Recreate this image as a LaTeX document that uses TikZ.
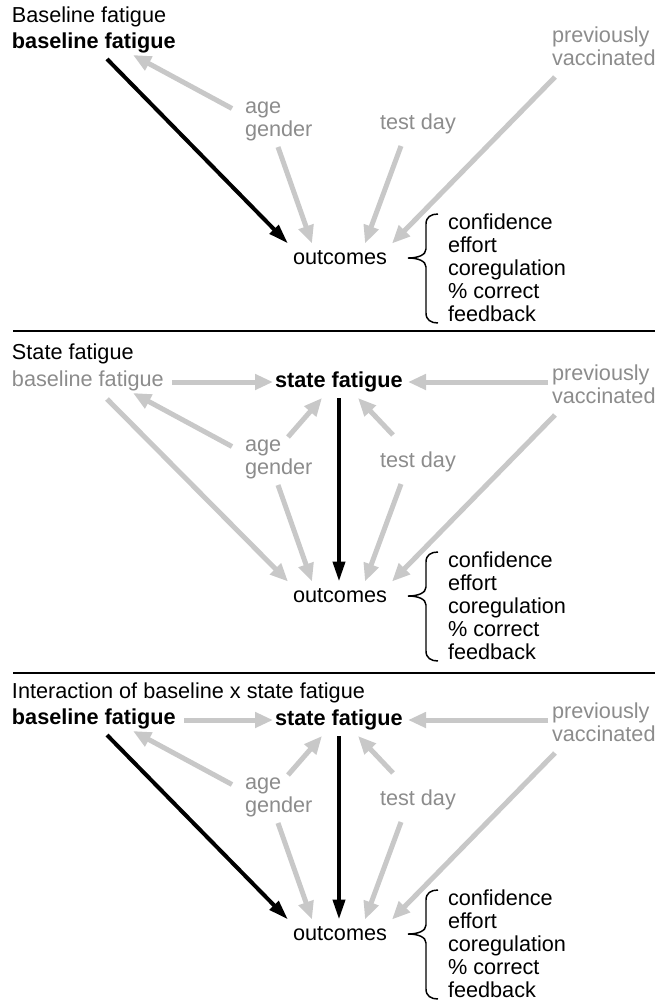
\documentclass[tikz,border=0pt]{standalone}
\usepackage{fontspec}
\setmainfont{Liberation Sans}
\usetikzlibrary{arrows.meta,calc}
\definecolor{lgrey}{HTML}{C8C8C8}
\definecolor{tgrey}{HTML}{8C8C8C}
\tikzset{
  lbl/.style={anchor=base west, inner sep=0pt, outer sep=0pt, font=\fontsize{16.25}{19}\selectfont},
  glbl/.style={lbl, text=tgrey},
  blbl/.style={lbl, font=\fontsize{16.25}{19}\selectfont\bfseries},
  garrow/.style={draw=lgrey, line width=3.75pt, -{Triangle[width=11.25pt,length=13.5pt]}},
  barrow/.style={draw=black, line width=3pt, -{Triangle[width=9pt,length=15pt]}},
  sepline/.style={draw=black, line width=1.6pt},
  bracestyle/.style={draw=black, line width=1.1pt}
}
% #1 suffix, #2 vertical offset (px)
\newcommand\panelcommon[2]{%
  \node[glbl] (prev#1) at (552,{42+#2}) {previously};
  \node[glbl] (vacc#1) at (552,{65+#2}) {vaccinated};
  \node[glbl] (age#1) at (245,{113+#2}) {age};
  \node[glbl] (gender#1) at (245,{136+#2}) {gender};
  \node[glbl] (td#1) at (380,{129+#2}) {test day};
  \node[lbl] (out#1) at (293,{264+#2}) {outcomes};
  \node[lbl] (la#1) at (448,{229+#2}) {confidence};
  \node[lbl] (lb#1) at (448,{252+#2}) {effort};
  \node[lbl] (lc#1) at (448,{275+#2}) {coregulation};
  \node[lbl] (ld#1) at (448,{298+#2}) {\% correct};
  \node[lbl] (le#1) at (448,{321+#2}) {feedback};
  \draw[bracestyle] (438,{214+#2}) .. controls (431,{214+#2}) and (426,{217+#2}) .. (426,{224+#2})
     -- (426,{249+#2}) .. controls (426,{255+#2}) and (418,{258+#2}) .. (408,{258+#2})
     .. controls (418,{258+#2}) and (426,{261+#2}) .. (426,{267+#2})
     -- (426,{313+#2}) .. controls (426,{320+#2}) and (431,{323+#2}) .. (438,{323+#2});
  \draw[garrow] ($(age#1.base west)+(-13,-4.5)$) -- ($(bf#1.base west)+(121,7)$);
  \draw[garrow] ($(gender#1.base west)+(33,11)$) -- ($(out#1.base west)+(19,-20.5)$);
  \draw[garrow] ($(td#1.base west)+(21,17)$) -- ($(out#1.base west)+(72,-20.5)$);
  \draw[garrow] ($(vacc#1.base west)+(3,12)$) -- ($(out#1.base west)+(99,-20.5)$);
}
\begin{document}
\begin{tikzpicture}[x=0.75pt,y=-0.75pt]
\useasboundingbox (0,0) rectangle (657,1003);
% ---------- panel 1 ----------
\node[lbl] (t1) at (12,22) {Baseline fatigue};
\node[blbl] (bf1) at (12,48) {baseline fatigue};
\panelcommon{1}{0}
\draw[barrow] ($(bf1.base west)+(95,11)$) -- ($(out1.base west)+(-5,-20.5)$);
\draw[sepline] (13,331) -- (655,331);
% ---------- panel 2 ----------
\node[lbl] (t2) at (12,359) {State fatigue};
\node[glbl] (bf2) at (12,386) {baseline fatigue};
\node[blbl] (sf2) at (275,387) {state fatigue};
\panelcommon{2}{338}
\draw[garrow] ($(bf2.base west)+(160,-4)$) -- ($(sf2.base west)+(-2,-5)$);
\draw[garrow] ($(prev2.base west)+(-4,2)$) -- ($(sf2.base west)+(133,-5)$);
\draw[garrow] ($(age2.base west)+(43,-14)$) -- ($(sf2.base west)+(47,11)$);
\draw[garrow] ($(td2.base west)+(13,-32)$) -- ($(sf2.base west)+(83,11)$);
\draw[garrow] ($(bf2.base west)+(95,13)$) -- ($(out2.base west)+(-5,-20.5)$);
\draw[barrow] ($(sf2.base west)+(64,11)$) -- ($(out2.base west)+(46,-20.5)$);
\draw[sepline] (13,673) -- (655,673);
% ---------- panel 3 ----------
\node[lbl] (t3) at (12,698) {Interaction of baseline x state fatigue};
\node[blbl] (bf3) at (12,724) {baseline fatigue};
\node[blbl] (sf3) at (275,725) {state fatigue};
\panelcommon{3}{676}
\draw[garrow] ($(bf3.base west)+(172,-4)$) -- ($(sf3.base west)+(-2,-5)$);
\draw[garrow] ($(prev3.base west)+(-4,2)$) -- ($(sf3.base west)+(133,-5)$);
\draw[garrow] ($(age3.base west)+(43,-14)$) -- ($(sf3.base west)+(47,11)$);
\draw[garrow] ($(td3.base west)+(13,-32)$) -- ($(sf3.base west)+(83,11)$);
\draw[barrow] ($(bf3.base west)+(95,11)$) -- ($(out3.base west)+(-5,-20.5)$);
\draw[barrow] ($(sf3.base west)+(64,11)$) -- ($(out3.base west)+(46,-20.5)$);
\end{tikzpicture}
\end{document}
